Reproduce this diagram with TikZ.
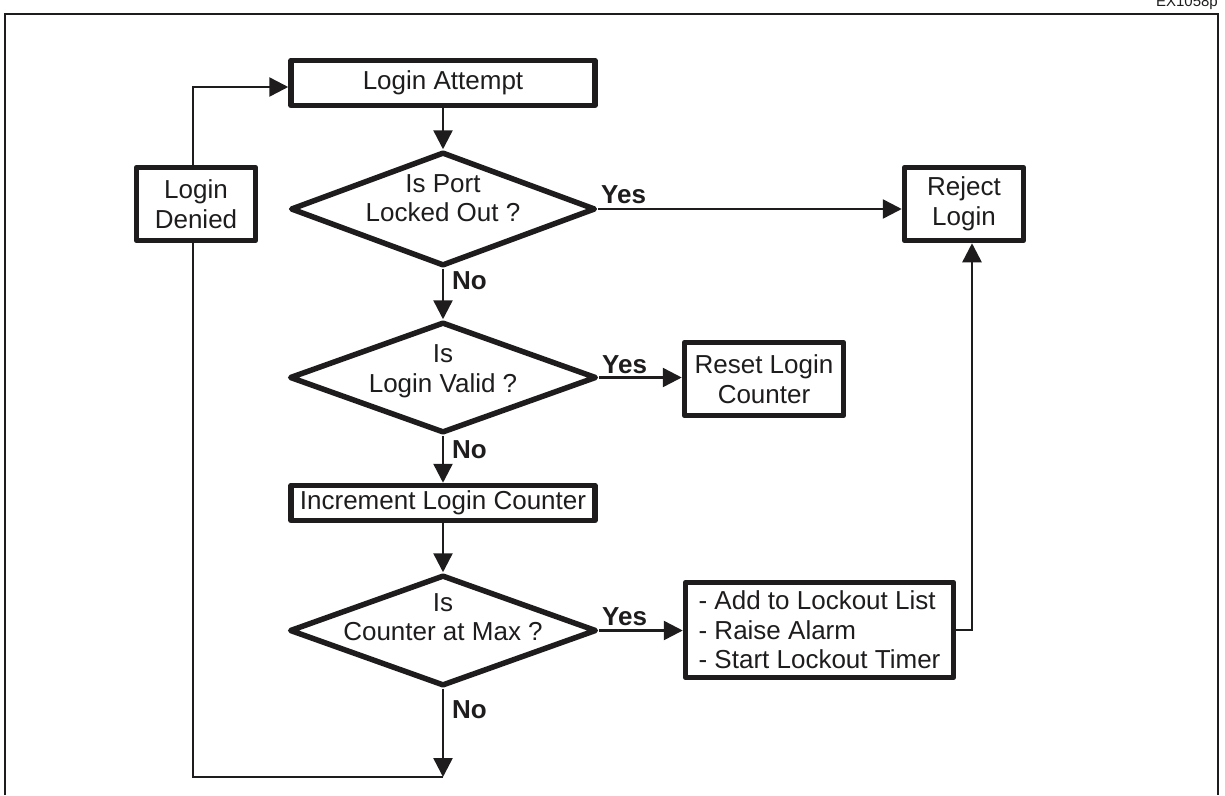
\documentclass[tikz,border=0pt]{standalone}
\usepackage{fontspec}
\setmainfont{Liberation Sans}
\usetikzlibrary{shapes.geometric,arrows.meta}
\definecolor{ink}{RGB}{30,28,28}
\begin{document}
\begin{tikzpicture}[x=1pt,y=-1pt,
  every node/.style={font=\fontsize{26}{29.5}\selectfont, text=ink},
  box/.style={draw=ink, line width=5.5pt, line join=round, inner sep=0pt},
  dec/.style={draw=ink, shape=diamond, line width=5.5pt, line join=round, inner sep=0pt},
  arr/.style={draw=ink, line width=2.5pt, -{Triangle[length=19pt,width=19pt]}},
  conn/.style={draw=ink, line width=2.5pt},
  frame/.style={draw=ink, line width=2.5pt},
  lbl/.style={font=\bfseries\fontsize{26}{29.5}\selectfont, inner sep=0pt, anchor=base west},
  dtext/.style={align=center, inner sep=0pt}
]
\useasboundingbox (0,0) rectangle (1225,795);
\draw[frame] (5,795) -- (5,14) -- (1218,14) -- (1218,795);
\node[anchor=base east, inner sep=0pt, font=\fontsize{15}{17}\selectfont] (tag) at (1218,6) {EX1058p};

% nodes
\node[box, minimum width=304pt, minimum height=45pt] (att) at (443,83) {Login Attempt};
\node[dec, minimum width=305pt, minimum height=114pt] (d1) at (443,209) {};
\node[dtext] (t1) at (443,198) {Is Port\\Locked Out ?};
\node[dec, minimum width=307pt, minimum height=111pt] (d2) at (443,377.5) {};
\node[dtext] (t2) at (443,371) {Is\\Login Valid ?};
\node[box, minimum width=304pt, minimum height=35pt] (inc) at (443,503) {Increment Login Counter};
\node[dec, minimum width=307pt, minimum height=111pt] (d3) at (443,630.5) {};
\node[dtext] (t3) at (443,617) {Is\\Counter at Max ?};

\node[box, align=center, minimum width=119pt, minimum height=73pt] (ld) at (196,204) {Login\\Denied};
\node[box, align=center, minimum width=119pt, minimum height=73pt] (rej) at (964,204) {Reject\\Login};
\node[box, align=center, minimum width=159pt, minimum height=73pt] (rs) at (764,379) {Reset Login\\Counter};
\node[box, align=left, minimum width=268pt, minimum height=95pt] (lk) at (819.5,630) {- Add to Lockout List\\- Raise Alarm\\- Start Lockout Timer};

% labels
\node[lbl] (y1) at (601,203) {Yes};
\node[lbl] (y2) at (602,373) {Yes};
\node[lbl] (y3) at (602,625) {Yes};
\node[lbl] (n1) at (452,289) {No};
\node[lbl] (n2) at (452,458) {No};
\node[lbl] (n3) at (452,718) {No};

% helper coordinates
\coordinate (j) at (443,777);
\coordinate (lx) at (193,0);

% connectors
\draw[arr] (att) -- (d1);
\draw[arr] (d1) -- (d2);
\draw[arr] (d2) -- (inc);
\draw[arr] (inc) -- (d3);
\draw[arr] (d3) -- (j);
\draw[conn] (j) -- (j -| lx) -- (ld.south -| lx);
\draw[arr] (ld.north -| lx) |- ([yshift=-4pt]att.west);
\draw[arr] (d1.east) -- (d1.east -| rej.west);
\draw[arr] (d2.east) -- (d2.east -| rs.west);
\draw[arr] (d3.east) -- (d3.east -| lk.west);
\draw[arr] (lk.east) -| ([xshift=8pt]rej.south);
\end{tikzpicture}
\end{document}
